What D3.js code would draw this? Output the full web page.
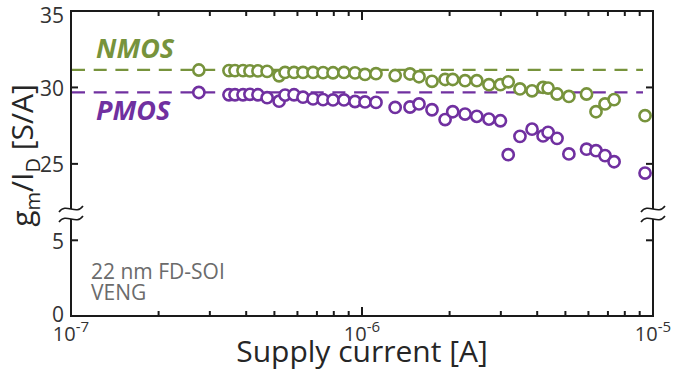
<!DOCTYPE html>
<html>
<head>
<meta charset="utf-8">
<script src="https://cdn.jsdelivr.net/npm/d3@7"></script>
<style>
  body { margin: 0; background: #fff; }
  svg { display: block; }
</style>
</head>
<body>
<div id="container"></div>
<script>
// supply current [A], shared by both devices
const current = [
  2.75e-7, 3.49e-7, 3.66e-7, 3.90e-7, 4.12e-7, 4.39e-7, 4.72e-7, 5.19e-7, 5.44e-7, 5.84e-7,
  6.27e-7, 6.79e-7, 7.35e-7, 7.95e-7, 8.67e-7, 9.46e-7, 1.024e-6, 1.117e-6, 1.30e-6, 1.462e-6,
  1.57e-6, 1.74e-6, 1.93e-6, 2.05e-6, 2.26e-6, 2.48e-6, 2.73e-6, 2.99e-6, 3.18e-6, 3.49e-6,
  3.84e-6, 4.19e-6, 4.36e-6, 4.68e-6, 5.14e-6, 5.91e-6, 6.37e-6, 6.84e-6, 7.35e-6, 9.39e-6
];
// gm/ID [S/A]
const nmos = [
  31.14, 31.10, 31.10, 31.10, 31.08, 31.08, 31.05, 30.76, 30.98, 30.98,
  30.98, 30.98, 30.97, 30.96, 30.98, 30.95, 30.85, 30.90, 30.78, 30.88,
  30.70, 30.40, 30.52, 30.52, 30.44, 30.44, 30.18, 30.18, 30.37, 29.90,
  29.78, 30.00, 29.96, 29.57, 29.41, 29.57, 28.41, 28.92, 29.20, 28.15
];
const pmos = [
  29.67, 29.52, 29.52, 29.52, 29.55, 29.52, 29.33, 29.10, 29.50, 29.52,
  29.36, 29.25, 29.20, 29.18, 29.18, 29.08, 29.05, 29.02, 28.69, 28.72,
  28.92, 28.54, 27.90, 28.41, 28.26, 28.11, 27.93, 27.82, 25.60, 26.80,
  27.27, 26.83, 27.06, 26.67, 25.65, 25.96, 25.86, 25.54, 25.14, 24.40
];
// dashed reference levels
const refNmos = 31.15;
const refPmos = 29.68;

const yTicks = [0, 5, 25, 30, 35];
const xMajor = [1e-7, 1e-6, 1e-5];
const xExp = ["-7", "-6", "-5"];

const green = "#77933c";
const purple = "#7030a0";

const W = 676, H = 375;
const pLeft = 71, pRight = 653, pTop = 11, pBottom = 316;

let svg = d3.select("#container")
  .append("svg")
    .attr("width", W)
    .attr("height", H)
;

const x = d3.scaleLog().domain([1e-7, 1e-5]).range([pLeft, pRight]);
// broken axis: 0..5 at the bottom, 20..35 above the break
const y = d3.scaleLinear().domain([0, 5, 20, 35]).range([pBottom, 240.3, 240.3, pTop]);

// minor ticks 2..9 in each decade
const xMinor = [];
[1e-7, 1e-6].forEach(d => { for (let k = 2; k <= 9; k++) xMinor.push(d * k); });

// dashed reference lines
[[refNmos, green], [refPmos, purple]].forEach(([v, c]) => {
  svg.append("line")
      .attr("x1", pLeft + 1)
      .attr("x2", 643)
      .attr("y1", y(v))
      .attr("y2", y(v))
      .attr("stroke", c)
      .attr("stroke-width", 2.2)
      .attr("stroke-dasharray", "13,8.7")
  ;
});

// data points
const series = [[nmos, green], [pmos, purple]];
series.forEach(([vals, c]) => {
  svg.append("g")
    .selectAll("circle")
    .data(current.map((d, i) => [d, vals[i]]))
    .join("circle")
      .attr("cx", d => x(d[0]))
      .attr("cy", d => y(d[1]))
      .attr("r", 5.6)
      .attr("fill", "white")
      .attr("stroke", c)
      .attr("stroke-width", 2.6)
  ;
});

// frame
const frame = svg.append("g")
  .attr("stroke", "#1a1a1a")
  .attr("stroke-width", 2)
  .attr("fill", "none");
frame.append("rect")
    .attr("x", pLeft)
    .attr("y", pTop)
    .attr("width", pRight - pLeft)
    .attr("height", pBottom - pTop)
;

// x ticks, bottom and top, pointing inward
xMajor.concat(xMinor).forEach(d => {
  const len = xMajor.includes(d) ? 9 : 5;
  frame.append("line")
      .attr("x1", x(d)).attr("x2", x(d))
      .attr("y1", pBottom).attr("y2", pBottom - len);
  frame.append("line")
      .attr("x1", x(d)).attr("x2", x(d))
      .attr("y1", pTop).attr("y2", pTop + len);
});

// y ticks, left and right
yTicks.forEach(d => {
  frame.append("line")
      .attr("x1", pLeft).attr("x2", pLeft + 7)
      .attr("y1", y(d)).attr("y2", y(d));
  frame.append("line")
      .attr("x1", pRight).attr("x2", pRight - 7)
      .attr("y1", y(d)).attr("y2", y(d));
});

// axis break marks
[pLeft, pRight].forEach(cx => {
  const by = 214;
  svg.append("rect")
      .attr("x", cx - 3)
      .attr("y", by - 5)
      .attr("width", 6)
      .attr("height", 10)
      .attr("fill", "white")
  ;
  [by - 5, by + 5].forEach(yy => {
    svg.append("path")
        .attr("d", `M${cx - 12},${yy + 3} C${cx - 5},${yy - 7} ${cx + 5},${yy + 7} ${cx + 12},${yy - 3}`)
        .attr("fill", "none")
        .attr("stroke", "#1a1a1a")
        .attr("stroke-width", 1.6)
    ;
  });
});

// y tick labels (end ones nudged so they stay clear)
yTicks.forEach(d => {
  svg.append("text")
      .text(d)
      .attr("x", 64)
      .attr("y", d === 35 ? y(d) + 4 : d === 0 ? y(d) - 2 : y(d) + 1)
      .attr("dy", "0.36em")
      .attr("text-anchor", "end")
      .attr("font-family", "Open Sans")
      .attr("font-size", 21)
      .attr("fill", "#333")
  ;
});

// x tick labels 10^n
xMajor.forEach((d, i) => {
  const t = svg.append("text")
      .attr("x", x(d))
      .attr("y", 341)
      .attr("text-anchor", "middle")
      .attr("font-family", "Open Sans")
      .attr("font-size", 20)
      .attr("fill", "#333");
  t.append("tspan").text("10");
  t.append("tspan").text(xExp[i]).attr("dy", -9).attr("font-size", 15);
});

// axis titles
svg.append("text")
    .text("Supply current [A]")
    .attr("x", (pLeft + pRight) / 2)
    .attr("y", 362)
    .attr("text-anchor", "middle")
    .attr("font-family", "Open Sans")
    .attr("font-size", 30)
    .attr("fill", "#262626")
;

const yl = svg.append("text")
    .attr("transform", `translate(33,${(pTop + pBottom) / 2 - 8}) rotate(-90)`)
    .attr("text-anchor", "middle")
    .attr("font-family", "Open Sans")
    .attr("font-size", 30)
    .attr("fill", "#262626");
yl.append("tspan").text("g");
yl.append("tspan").text("m").attr("font-size", 20).attr("dy", 7);
yl.append("tspan").text("/I").attr("dy", -7);
yl.append("tspan").text("D").attr("font-size", 20).attr("dy", 7);
yl.append("tspan").text(" [S/A]").attr("dy", -7);

// series labels
svg.append("text")
    .text("NMOS")
    .attr("x", 96)
    .attr("y", 58)
    .attr("font-family", "Open Sans")
    .attr("font-size", 27)
    .attr("font-weight", "bold")
    .attr("font-style", "italic")
    .attr("fill", green)
;
svg.append("text")
    .text("PMOS")
    .attr("x", 96)
    .attr("y", 120)
    .attr("font-family", "Open Sans")
    .attr("font-size", 27)
    .attr("font-weight", "bold")
    .attr("font-style", "italic")
    .attr("fill", purple)
;

// technology note
svg.append("text")
    .text("22 nm FD-SOI")
    .attr("x", 91)
    .attr("y", 279)
    .attr("font-family", "Open Sans")
    .attr("font-size", 21)
    .attr("fill", "#6b6b6b")
;
svg.append("text")
    .text("VENG")
    .attr("x", 91)
    .attr("y", 300)
    .attr("font-family", "Open Sans")
    .attr("font-size", 21)
    .attr("fill", "#6b6b6b")
;
</script>
</body>
</html>
